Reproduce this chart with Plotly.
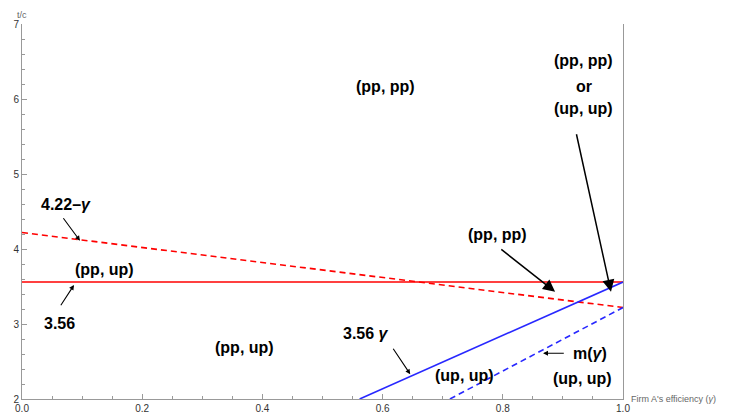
import plotly.graph_objects as go

# ---- data ----
gamma_ends = [0.0, 1.0]
flat_line = [3.56, 3.56]              # 3.56
decl_line = [4.22, 3.22]              # 4.22 - gamma
rise_x = [0.5618, 1.0]                # 3.56 gamma
rise_y = [2.0, 3.56]
m_x = [0.712, 1.0]                    # m(gamma)
m_y = [2.0, 3.22]

x_ticks = [0.0, 0.2, 0.4, 0.6, 0.8, 1.0]
x_tick_text = ["0.0", "0.2", "0.4", "0.6", "0.8", "1.0"]
y_ticks = [2, 3, 4, 5, 6, 7]

labels = [
    ("(pp, pp)", 0.604, 6.17),
    ("(pp, pp)", 0.935, 6.51),
    ("or", 0.935, 6.17),
    ("(up, up)", 0.935, 5.88),
    ("4.22\u2013<i>\u03b3</i>", 0.073, 4.60),
    ("(pp, up)", 0.138, 3.73),
    ("3.56", 0.063, 3.01),
    ("(pp, up)", 0.371, 2.69),
    ("3.56 <i>\u03b3</i>", 0.572, 2.88),
    ("(up, up)", 0.737, 2.31),
    ("m(<i>\u03b3</i>)", 0.945, 2.61),
    ("(up, up)", 0.932, 2.27),
    ("(pp, pp)", 0.792, 4.19),
]

# arrows: tail x, tail y, head x, head y, size
arrows = [
    (0.067, 4.43, 0.0965, 4.11, "small"),
    (0.063, 3.23, 0.0865, 3.52, "small"),
    (0.616, 2.69, 0.646, 2.33, "small"),
    (0.904, 2.61, 0.867, 2.61, "small"),
    (0.795, 4.01, 0.887, 3.43, "big"),
    (0.922, 5.55, 0.980, 3.43, "big"),
]

RED = "rgb(255,0,0)"
BLUE = "rgb(40,40,255)"

fig = go.Figure()
fig.add_trace(go.Scatter(x=gamma_ends, y=flat_line, mode="lines",
                         line=dict(color=RED, width=1.6)))
fig.add_trace(go.Scatter(x=gamma_ends, y=decl_line, mode="lines",
                         line=dict(color=RED, width=1.6, dash="6px,4px")))
fig.add_trace(go.Scatter(x=rise_x, y=rise_y, mode="lines",
                         line=dict(color=BLUE, width=1.6)))
fig.add_trace(go.Scatter(x=m_x, y=m_y, mode="lines",
                         line=dict(color=BLUE, width=1.6, dash="6px,4px")))

annotations = []
for txt, x, y in labels:
    annotations.append(dict(x=x, y=y, text="<b>" + txt + "</b>", showarrow=False,
                            font=dict(family="Liberation Sans, Arial", size=16, color="black"),
                            xanchor="center", yanchor="middle"))
for tx, ty, hx, hy, size in arrows:
    annotations.append(dict(x=hx, y=hy, ax=tx, ay=ty, axref="x", ayref="y",
                            xref="x", yref="y", text="", showarrow=True,
                            arrowhead=2, arrowwidth=1.1 if size == "small" else 1.5,
                            arrowsize=0.9 if size == "small" else 1.6,
                            arrowcolor="black", standoff=0, startstandoff=0))
annotations.append(dict(xref="paper", yref="paper", x=0.0, y=1.0, yshift=16,
                        text="t/c", showarrow=False, xanchor="center", yanchor="top",
                        font=dict(family="Liberation Sans, Arial", size=9, color="#666")))
annotations.append(dict(xref="paper", yref="paper", x=1.0, y=0.0, xshift=6,
                        text="Firm A's efficiency (<i>\u03b3</i>)", showarrow=False,
                        xanchor="left", yanchor="middle",
                        font=dict(family="Liberation Sans, Arial", size=9, color="#666")))

fig.update_layout(
    width=726, height=405,
    margin=dict(l=14, r=111, t=16, b=14, autoexpand=False),
    plot_bgcolor="white", paper_bgcolor="white",
    showlegend=False,
    annotations=annotations,
    font=dict(family="Liberation Sans, Arial", size=10, color="#333"),
    xaxis=dict(range=[0, 1], tickvals=x_ticks, ticktext=x_tick_text, automargin=False,
               showgrid=False, zeroline=False, showline=True, linecolor="#999",
               linewidth=1, ticks="inside", ticklen=5, tickcolor="#999",
               minor=dict(dtick=0.05, ticks="inside", ticklen=3, tickcolor="#999"),
               tickfont=dict(size=10, color="#333")),
    yaxis=dict(range=[2, 7], tickvals=y_ticks, automargin=False,
               showgrid=False, zeroline=False, showline=True, linecolor="#999",
               linewidth=1, mirror=True, ticks="inside", ticklen=5, tickcolor="#999",
               minor=dict(dtick=0.2, ticks="inside", ticklen=3, tickcolor="#999"),
               tickfont=dict(size=10, color="#333")),
)

fig.write_html("out.html")
